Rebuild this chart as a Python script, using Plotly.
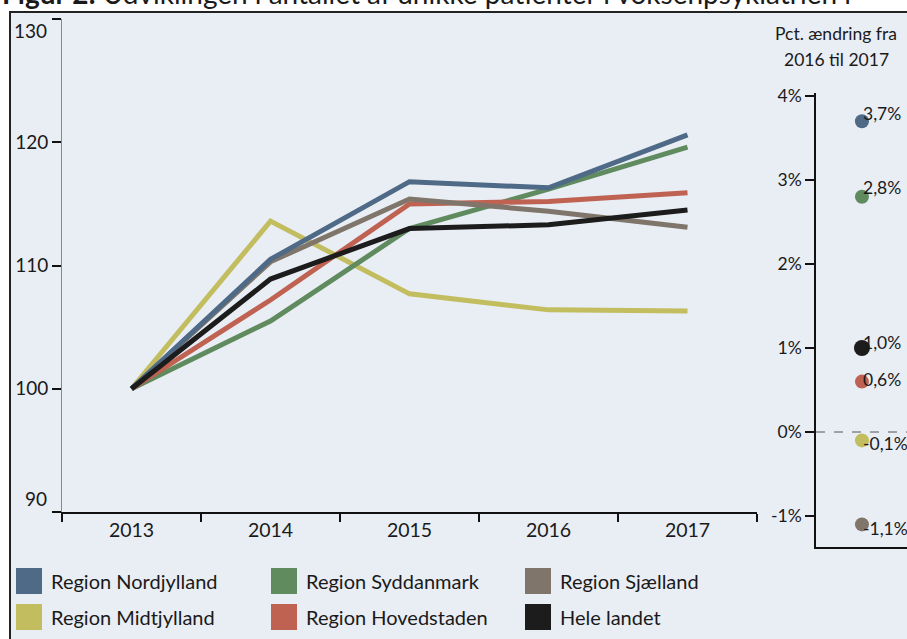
import plotly.graph_objects as go

# ---------------- data ----------------
years = ["2013", "2014", "2015", "2016", "2017"]
regions = ["Region Nordjylland", "Region Syddanmark", "Region Sjælland",
           "Region Midtjylland", "Region Hovedstaden", "Hele landet"]
colors = ["#4e6a86", "#5f8b5f", "#7f756b", "#c2bd5e", "#bf6252", "#1c1c1c"]

nordjylland = [100, 110.5, 116.8, 116.3, 120.6]
syddanmark = [100, 105.5, 113.0, 116.2, 119.6]
sjaelland = [100, 110.3, 115.4, 114.4, 113.1]
midtjylland = [100, 113.6, 107.7, 106.4, 106.3]
hovedstaden = [100, 107.2, 115.0, 115.2, 115.9]
hele_landet = [100, 108.9, 113.0, 113.3, 114.5]
series = [nordjylland, syddanmark, sjaelland, midtjylland, hovedstaden, hele_landet]

end_labels = ["121", "120", "113", "106", "116", "114"]
pct_change = [3.7, 2.8, -1.1, -0.1, 0.6, 1.0]
pct_labels = ["3,7%", "2,8%", "-1,1%", "-0,1%", "0,6%", "1,0%"]

y_ticks = [90, 100, 110, 120, 130]
y_ticktext = ["", "100", "110", "120", ""]
pct_ticks = [-1, 0, 1, 2, 3, 4]
pct_ticktext = ["-1%", "0%", "1%", "2%", "3%", "4%"]

title_text = "<b>Figur 2:</b> Udviklingen i antallet af unikke patienter i voksenpsykiatrien i"
panel_title = ["Pct. ændring fra", "2016 til 2017"]

# ---------------- layout helpers ----------------
W, H = 907, 639
FONT = "Lato"
TXT = "#1a1a1a"
BG = "#e9edf4"


def px(x):
    return x / W


def py(y):
    return 1 - y / H


fig = go.Figure()

# draw order (bottom to top)
draw_order = [3, 1, 4, 2, 0, 5]
for i in draw_order:
    fig.add_trace(go.Scatter(
        x=years, y=series[i], mode="lines", name=regions[i],
        line=dict(color=colors[i], width=5), showlegend=False,
        xaxis="x", yaxis="y", hoverinfo="skip"))

# dots in right panel
fig.add_trace(go.Scatter(
    x=[0.505] * len(pct_change), y=pct_change, mode="markers",
    marker=dict(color=colors, size=[14, 14, 14, 14, 14, 16], opacity=1,
                line=dict(width=0)),
    opacity=1, showlegend=False, xaxis="x2", yaxis="y2", hoverinfo="skip"))

annotations = []
shapes = []

# frame / background
shapes.append(dict(type="rect", xref="paper", yref="paper",
                   x0=px(10), x1=px(930), y0=py(12), y1=py(660),
                   fillcolor=BG, line=dict(color="#222222", width=2), layer="below"))

# zero line in right panel
shapes.append(dict(type="line", xref="x2 domain", yref="y2", x0=0, x1=1, y0=0, y1=0,
                   line=dict(color="#555555", width=1, dash="dash")))

# end labels of lines
end_yshift = [19, 0, -14, -11, 0, 0]
for i in range(len(regions)):
    annotations.append(dict(x=years[-1], y=series[i][-1], xref="x", yref="y",
                            text=end_labels[i], showarrow=False, xanchor="left",
                            xshift=9, yshift=end_yshift[i],
                            font=dict(family=FONT, size=20, color=TXT)))

# dot labels
dot_yshift = [8, 9, -4, -3, 2, 6]
for i in range(len(regions)):
    annotations.append(dict(x=0.505, y=pct_change[i], xref="x2", yref="y2",
                            text=pct_labels[i], showarrow=False, xanchor="left",
                            xshift=-1, yshift=dot_yshift[i],
                            font=dict(family=FONT, size=17.5, color=TXT)))

# offset tick labels 130 and 90
annotations.append(dict(x=px(49), y=py(30), xref="paper", yref="paper", text="130",
                        showarrow=False, xanchor="right", yanchor="middle",
                        font=dict(family=FONT, size=19, color=TXT)))
annotations.append(dict(x=px(49), y=py(499), xref="paper", yref="paper", text="90",
                        showarrow=False, xanchor="right", yanchor="middle",
                        font=dict(family=FONT, size=19, color=TXT)))

# panel title
for t, yy in zip(panel_title, [34, 59]):
    annotations.append(dict(x=px(836), y=py(yy), xref="paper", yref="paper", text=t,
                            showarrow=False, xanchor="center", yanchor="middle",
                            font=dict(family=FONT, size=17.5, color=TXT)))

# figure title (cut off at top, as in the source)
annotations.append(dict(x=0, y=py(-7), xref="paper", yref="paper", text=title_text,
                        showarrow=False, xanchor="left", yanchor="middle",
                        font=dict(family=FONT, size=28, color=TXT)))

# legend
col_x = [16, 271, 525]
row_y = [581, 617]
for i, name in enumerate(regions):
    c, r = i % 3, i // 3
    x0 = col_x[c]
    yc = row_y[r]
    shapes.append(dict(type="rect", xref="paper", yref="paper",
                       x0=px(x0), x1=px(x0 + 26), y0=py(yc + 13), y1=py(yc - 13),
                       fillcolor=colors[i], line=dict(width=0)))
    annotations.append(dict(x=px(x0 + 33), y=py(yc), xref="paper", yref="paper",
                            text=name, showarrow=False, xanchor="left", yanchor="middle",
                            font=dict(family=FONT, size=20, color=TXT)))

fig.update_layout(
    width=W, height=H,
    margin=dict(l=0, r=0, t=0, b=0),
    paper_bgcolor="white",
    plot_bgcolor="rgba(0,0,0,0)",
    font=dict(family=FONT, color=TXT),
    showlegend=False,
    xaxis=dict(domain=[px(62), px(757)], type="category", range=[-0.5, 4.5],
               tickson="boundaries", ticks="outside", ticklen=8, tickwidth=2,
               tickcolor="#111111", showline=True, linecolor="#111111", linewidth=2,
               showgrid=False, zeroline=False, anchor="y", automargin=False,
               tickfont=dict(family=FONT, size=19.5, color=TXT)),
    yaxis=dict(domain=[py(512), py(19)], range=[90, 130], tickvals=y_ticks,
               ticktext=y_ticktext, ticks="outside", ticklen=9, tickwidth=2,
               tickcolor="#111111", showline=True, linecolor="#888888", linewidth=1,
               showgrid=False, zeroline=False, anchor="x", automargin=False,
               tickfont=dict(family=FONT, size=19, color=TXT)),
    xaxis2=dict(domain=[px(816), 1], range=[0, 1], showline=True, linecolor="#111111",
                linewidth=1.5, showticklabels=False, ticks="", showgrid=False,
                zeroline=False, anchor="y2", automargin=False),
    yaxis2=dict(domain=[py(547), py(93)], range=[-1.369, 4.036], tickvals=pct_ticks,
                ticktext=pct_ticktext, ticks="outside", ticklen=9, tickwidth=2,
                tickcolor="#111111", showline=True, linecolor="#111111", linewidth=1.5,
                showgrid=False, zeroline=False, anchor="x2", automargin=False,
                tickfont=dict(family=FONT, size=17.5, color=TXT)),
    shapes=shapes,
    annotations=annotations,
)

fig.write_html("out.html", config={"displayModeBar": False},
               post_script="document.body.style.margin='0';document.body.style.overflow='hidden';")
